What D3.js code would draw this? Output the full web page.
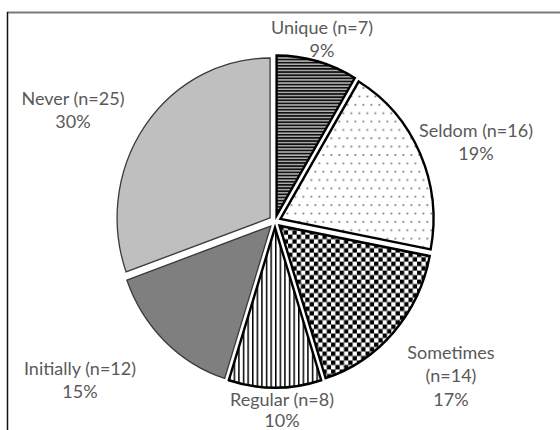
<!DOCTYPE html>
<html>
<head>
<meta charset="utf-8">
<script src="https://cdn.jsdelivr.net/npm/d3@7"></script>
<style>
  html, body { margin: 0; padding: 0; background: #fff; }
  svg { display: block; }
  text { font-family: Lato, "Open Sans", sans-serif; }
</style>
</head>
<body>
<svg id="chart" width="560" height="430"></svg>
<script>
// Response frequency categories, counts and rounded shares
const categories = ["Unique", "Seldom", "Sometimes", "Regular", "Initially", "Never"];
const counts = [7, 16, 14, 8, 12, 25];
const percents = [9, 19, 17, 10, 15, 30];
// Label text lines for each category
const labelLines = [
  ["Unique (n=7)", "9%"],
  ["Seldom (n=16)", "19%"],
  ["Sometimes", "(n=14)", "17%"],
  ["Regular (n=8)", "10%"],
  ["Initially (n=12)", "15%"],
  ["Never (n=25)", "30%"]
];

// Layout
const W = 560, H = 430;
const cx = 275, cy = 221.5, r = 153, squash = 1.045, explode = 6;
const labelCenters = {
  Unique: [322, 27], Seldom: [476, 130], Sometimes: [451, 352],
  Regular: [282, 399], Initially: [80, 368], Never: [73, 98]
};
const lineGaps = { Regular: 21 };
const lineGap = 23.5;

const svg = d3.select("#chart");
const defs = svg.append("defs");

// Fill patterns
const pUnique = defs.append("pattern").attr("id", "p-unique")
  .attr("patternUnits", "userSpaceOnUse").attr("width", 6).attr("height", 3);
pUnique.append("rect").attr("width", 6).attr("height", 3).attr("fill", "#b0b0b0");
pUnique.append("rect").attr("width", 6).attr("height", 1.6).attr("fill", "#111");

const pSeldom = defs.append("pattern").attr("id", "p-seldom")
  .attr("patternUnits", "userSpaceOnUse").attr("width", 16).attr("height", 16);
pSeldom.append("rect").attr("width", 16).attr("height", 16).attr("fill", "#fff");
[[2, 2], [10, 2], [6, 10], [14, 10]].forEach(([x, y]) =>
  pSeldom.append("rect").attr("x", x).attr("y", y).attr("width", 1.6).attr("height", 1.6).attr("fill", "#666"));

const pSometimes = defs.append("pattern").attr("id", "p-sometimes")
  .attr("patternUnits", "userSpaceOnUse").attr("width", 8.6).attr("height", 8.6);
pSometimes.append("rect").attr("width", 8.6).attr("height", 8.6).attr("fill", "#fff");
pSometimes.append("rect").attr("width", 4.3).attr("height", 4.3).attr("fill", "#000");
pSometimes.append("rect").attr("x", 4.3).attr("y", 4.3).attr("width", 4.3).attr("height", 4.3).attr("fill", "#000");

const pRegular = defs.append("pattern").attr("id", "p-regular")
  .attr("patternUnits", "userSpaceOnUse").attr("width", 4.6).attr("height", 10);
pRegular.append("rect").attr("width", 4.6).attr("height", 10).attr("fill", "#fff");
pRegular.append("rect").attr("width", 1.5).attr("height", 10).attr("fill", "#000");

const fills = {
  Unique: "url(#p-unique)", Seldom: "url(#p-seldom)", Sometimes: "url(#p-sometimes)",
  Regular: "url(#p-regular)", Initially: "#7f7f7f", Never: "#bfbfbf"
};
const strokes = {
  Unique: ["#000", 2.4], Seldom: ["#000", 2.4], Sometimes: ["#000", 2.4],
  Regular: ["#000", 2.4], Initially: ["#3a3a3a", 1.3], Never: ["#3a3a3a", 1.3]
};

// Frame
svg.append("line").attr("x1", 7).attr("x2", W).attr("y1", 12.5).attr("y2", 12.5)
  .attr("stroke", "#7a7a7a").attr("stroke-width", 2);
svg.append("line").attr("x1", 7.5).attr("x2", 7.5).attr("y1", 12).attr("y2", H)
  .attr("stroke", "#111").attr("stroke-width", 1.5);

// Pie
const data = categories.map((c, i) => ({ cat: c, n: counts[i], pct: percents[i], lines: labelLines[i] }));
const pie = d3.pie().value(d => d.n).sort(null);
const arc = d3.arc().innerRadius(0).outerRadius(r);
const arcs = pie(data);

const g = svg.append("g").attr("transform", `translate(${cx},${cy}) scale(1,${squash})`);
g.selectAll("path").data(arcs).join("path")
  .attr("transform", d => {
    const a = (d.startAngle + d.endAngle) / 2;
    return `translate(${explode * Math.sin(a)},${-explode * Math.cos(a)})`;
  })
  .attr("d", arc)
  .attr("fill", d => fills[d.data.cat])
  .attr("stroke", d => strokes[d.data.cat][0])
  .attr("stroke-width", d => strokes[d.data.cat][1])
  .attr("stroke-linejoin", "miter");

// Labels
const lg = svg.append("g");
arcs.forEach(d => {
  const [lx, ly] = labelCenters[d.data.cat];
  const gap = lineGaps[d.data.cat] || lineGap;
  const t = lg.append("text").attr("text-anchor", "middle")
    .attr("font-size", 18).attr("fill", "#595959");
  d.data.lines.forEach((s, i) => {
    t.append("tspan").attr("x", lx).attr("y", ly + 6.5 + i * gap).text(s);
  });
});
</script>
</body>
</html>
